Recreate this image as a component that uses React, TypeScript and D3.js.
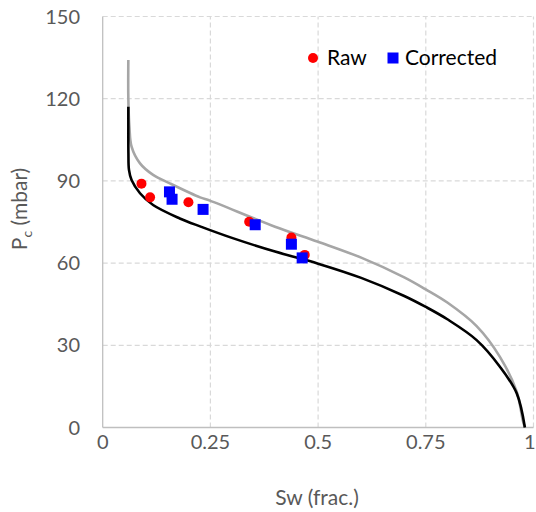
import React from "react";
import * as d3 from "d3";

const xTicks = [0, 0.25, 0.5, 0.75, 1];
const yTicks = [0, 30, 60, 90, 120, 150];

const rawSw = [0.09, 0.11, 0.199, 0.34, 0.438, 0.469];
const rawPc = [89, 84, 82.2, 75.1, 69.3, 63];

const corrSw = [0.155, 0.161, 0.233, 0.354, 0.438, 0.463];
const corrPc = [86, 83.3, 79.6, 74, 66.9, 61.9];

const blackSw = [0.0595, 0.0595, 0.0597, 0.061, 0.067, 0.0866, 0.117, 0.179, 0.226, 0.3, 0.4, 0.5, 0.6, 0.7, 0.75, 0.8, 0.868, 0.922, 0.961, 0.98];
const blackPc = [117.1, 110, 100, 94, 90.3, 85.5, 81.2, 76.3, 73.4, 69.2, 64.2, 59.8, 54.6, 48.0, 44.0, 39.5, 31.9, 22.2, 12.5, 0];

const graySw = [0.0595, 0.0595, 0.062, 0.067, 0.0866, 0.117, 0.156, 0.226, 0.249, 0.4, 0.5, 0.6, 0.7, 0.75, 0.8, 0.868, 0.922, 0.961, 0.975, 0.98];
const grayPc = [134.1, 120, 109.8, 102.5, 96.4, 92.2, 89.1, 84.0, 82.8, 73.3, 67.8, 62.0, 54.8, 50.4, 45.6, 37.0, 25.8, 13.1, 2.7, 0];

const FONT = "Lato, 'Open Sans', sans-serif";

export default function App() {
  const W = 536, H = 512;
  const x = d3.scaleLinear().domain([0, 1]).range([102.7, 533.5]);
  const y = d3.scaleLinear().domain([0, 150]).range([427.5, 16.5]);

  const line = d3
    .line<[number, number]>()
    .x((d) => x(d[0]))
    .y((d) => y(d[1]))
    .curve(d3.curveCatmullRom.alpha(0.5));

  const blackPts = blackSw.map((s, i) => [s, blackPc[i]] as [number, number]);
  const grayPts = graySw.map((s, i) => [s, grayPc[i]] as [number, number]);

  const gridColor = "#D9D9D9";
  const axisColor = "#BFBFBF";
  const tickColor = "#595959";

  return (
    <svg width={W} height={H} style={{ position: "absolute", left: 0, top: 0, background: "#fff" }}>
      {/* grid */}
      {yTicks.filter((t) => t !== 0).map((t) => (
        <line key={"gy" + t} x1={x(0)} x2={x(1)} y1={y(t)} y2={y(t)} stroke={gridColor} strokeWidth={1.2} strokeDasharray="5,3" />
      ))}
      {xTicks.filter((t) => t !== 0).map((t) => (
        <line key={"gx" + t} x1={x(t)} x2={x(t)} y1={y(0)} y2={y(150)} stroke={gridColor} strokeWidth={1.2} strokeDasharray="5,3" />
      ))}
      {/* axes */}
      <line x1={x(0)} x2={x(0)} y1={y(0)} y2={y(150)} stroke={axisColor} strokeWidth={1.3} />
      <line x1={x(0)} x2={x(1)} y1={y(0)} y2={y(0)} stroke={axisColor} strokeWidth={1.3} />

      {/* tick labels */}
      {yTicks.map((t) => (
        <text key={"ty" + t} x={80} y={y(t)} dy="0.35em" textAnchor="end" fontFamily={FONT} fontSize={20} fill={tickColor}>
          {t}
        </text>
      ))}
      {xTicks.map((t) => (
        <text
          key={"tx" + t}
          x={t === 1 ? W - 0.5 : x(t)}
          y={449}
          textAnchor={t === 1 ? "end" : "middle"}
          fontFamily={FONT}
          fontSize={20}
          fill={tickColor}
        >
          {String(t)}
        </text>
      ))}

      {/* axis titles */}
      <text x={317} y={505} textAnchor="middle" fontFamily={FONT} fontSize={21} fill={tickColor}>
        Sw (frac.)
      </text>
      <text transform="translate(27,209) rotate(-90)" textAnchor="middle" fontFamily={FONT} fontSize={21} fill={tickColor}>
        P<tspan fontSize={14} dy="5">c</tspan>
        <tspan dy="-5"> (mbar)</tspan>
      </text>

      {/* curves */}
      <path d={line(grayPts) || ""} fill="none" stroke="#A6A6A6" strokeWidth={2.6} />
      <path d={line(blackPts) || ""} fill="none" stroke="#000" strokeWidth={2.6} />

      {/* points */}
      {rawSw.map((s, i) => (
        <circle key={"r" + i} cx={x(s)} cy={y(rawPc[i])} r={5} fill="#FF0000" />
      ))}
      {corrSw.map((s, i) => (
        <rect key={"c" + i} x={x(s) - 5.5} y={y(corrPc[i]) - 5.5} width={11} height={11} fill="#0000FF" />
      ))}

      {/* legend */}
      <circle cx={313} cy={58} r={5} fill="#FF0000" />
      <text x={327} y={58} dy="0.35em" fontFamily={FONT} fontSize={21} fill="#000">
        Raw
      </text>
      <rect x={387.5} y={52.5} width={11} height={11} fill="#0000FF" />
      <text x={405} y={58} dy="0.35em" fontFamily={FONT} fontSize={21} fill="#000">
        Corrected
      </text>
    </svg>
  );
}
